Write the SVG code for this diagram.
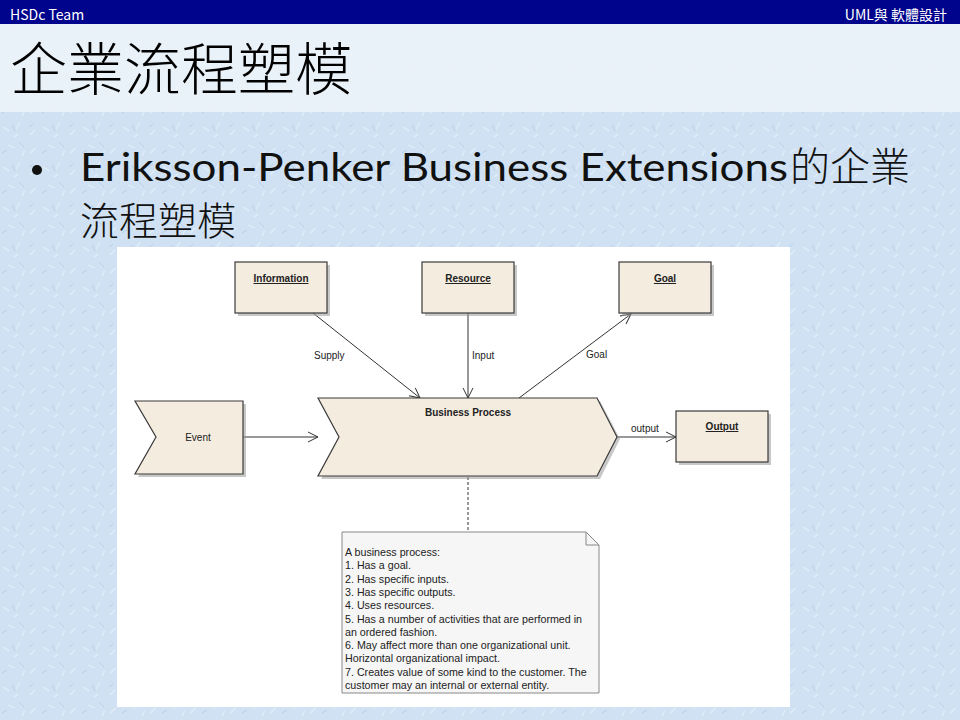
<svg xmlns="http://www.w3.org/2000/svg" width="960" height="720" viewBox="0 0 960 720">
<defs>
<style>
.node{fill:#F4ECDF;stroke:#3a3a3a;stroke-width:1.2}
.shadow{fill:#9a9a9a;opacity:0.55}
.lbl{font-family:"Liberation Sans",Arial,sans-serif;font-size:10px;fill:#222}
.name{font-family:"Liberation Sans",Arial,sans-serif;font-size:10px;font-weight:bold;fill:#222;text-decoration:underline}
.edge{stroke:#333;stroke-width:1;fill:none}
.note{font-family:"Liberation Sans",Arial,sans-serif;font-size:10.7px;fill:#222}
</style>
<marker id="open" viewBox="0 0 12 12" refX="11" refY="6" markerWidth="12" markerHeight="12" markerUnits="userSpaceOnUse" orient="auto">
<path d="M1,1 L11,6 L1,11" fill="none" stroke="#333" stroke-width="1"/>
</marker>
<pattern id="tex" width="40" height="40" patternUnits="userSpaceOnUse">
<rect width="40" height="40" fill="#cfe1f2"/>
<path d="M3,7 l6,4 M20,2 l-4,7 M30,15 l5,-5 M8,25 l7,3 M25,30 l-3,6 M36,28 l-6,5 M14,17 l4,-3" stroke="#e4eef8" stroke-width="1.2"/>
<path d="M12,5 l3,6 M33,4 l-4,3 M2,33 l5,-3 M19,22 l5,5" stroke="#b8d1ea" stroke-width="1"/>
</pattern>
</defs>
<rect width="960" height="720" fill="url(#tex)"/>
<rect x="0" y="24" width="960" height="88" fill="#eef4fa" opacity="0.85"/>
<rect x="0" y="0" width="960" height="24" fill="#00048c"/>
<text x="10" y="20" font-family="'Noto Sans CJK TC','Noto Sans',sans-serif" font-size="14" fill="#ffffff">HSDc Team</text>
<text x="947" y="20" text-anchor="end" font-family="'Noto Sans CJK TC','Noto Sans',sans-serif" font-size="14" fill="#ffffff">UML與 軟體設計</text>
<text x="10" y="90" font-family="'Noto Sans CJK TC',sans-serif" font-size="57" font-weight="300" fill="#000">企業流程塑模</text>
<circle cx="37" cy="170" r="5" fill="#111"/>
<text x="80" y="181" textLength="708" lengthAdjust="spacingAndGlyphs" font-family="Lato,'Open Sans',sans-serif" font-size="38" fill="#111">Eriksson-Penker Business Extensions</text>
<text x="790" y="181" font-family="'Noto Sans CJK TC',sans-serif" font-size="40" font-weight="300" fill="#111">的企業</text>
<text x="80" y="235" font-family="'Noto Sans CJK TC',sans-serif" font-size="39" font-weight="300" fill="#111">流程塑模</text>
<rect x="117" y="247" width="673" height="460" fill="#ffffff"/>
<g id="connectors">
<line class="edge" x1="313" y1="313" x2="420" y2="398" marker-end="url(#open)"/>
<line class="edge" x1="468" y1="313" x2="468" y2="398" marker-end="url(#open)"/>
<line class="edge" x1="519" y1="398" x2="631" y2="314" marker-end="url(#open)"/>
<line class="edge" x1="243" y1="437" x2="318" y2="437" marker-end="url(#open)"/>
<line class="edge" x1="617" y1="437" x2="676" y2="437" marker-end="url(#open)"/>
<line class="edge" x1="468" y1="477" x2="468" y2="532" stroke-dasharray="3,2"/>
<text class="lbl" x="314" y="359">Supply</text>
<text class="lbl" x="472" y="359">Input</text>
<text class="lbl" x="586" y="358">Goal</text>
<text class="lbl" x="631" y="432">output</text>
</g>
<g id="information">
<rect class="shadow" x="238" y="265" width="92" height="51"/>
<rect class="node" x="235" y="262" width="92" height="51"/>
<text class="name" x="281" y="282" text-anchor="middle">Information</text>
</g>
<g id="resource">
<rect class="shadow" x="425" y="265" width="92" height="51"/>
<rect class="node" x="422" y="262" width="92" height="51"/>
<text class="name" x="468" y="282" text-anchor="middle">Resource</text>
</g>
<g id="goal">
<rect class="shadow" x="622" y="265" width="92" height="51"/>
<rect class="node" x="619" y="262" width="92" height="51"/>
<text class="name" x="665" y="282" text-anchor="middle">Goal</text>
</g>
<g id="event">
<polygon class="shadow" points="138,404 246,404 246,477 138,477 159,440"/>
<polygon class="node" points="135,401 243,401 243,474 135,474 156,437"/>
<text class="lbl" x="198" y="441" text-anchor="middle">Event</text>
</g>
<g id="business-process">
<polygon class="shadow" points="321,401 600,401 620,439 600,479 321,479 342,440"/>
<polygon class="node" points="318,398 597,398 617,437 597,476 318,476 339,437"/>
<text class="name" x="468" y="416" text-anchor="middle" style="text-decoration:none">Business Process</text>
</g>
<g id="output">
<rect class="shadow" x="679" y="414" width="92" height="51"/>
<rect class="node" x="676" y="411" width="92" height="51"/>
<text class="name" x="722" y="430" text-anchor="middle">Output</text>
</g>
<g id="note">
<path d="M342,532 L586,532 L599,545 L599,693 L342,693 Z" fill="#f6f6f6" stroke="#888" stroke-width="1"/>
<path d="M586,532 L586,545 L599,545" fill="none" stroke="#888" stroke-width="1"/>
<text class="note" x="345" y="556">A business process:</text>
<text class="note" x="345" y="569.3">1. Has a goal.</text>
<text class="note" x="345" y="582.6">2. Has specific inputs.</text>
<text class="note" x="345" y="595.9">3. Has specific outputs.</text>
<text class="note" x="345" y="609.2">4. Uses resources.</text>
<text class="note" x="345" y="622.5">5. Has a number of activities that are performed in</text>
<text class="note" x="345" y="635.8">an ordered fashion.</text>
<text class="note" x="345" y="649.1">6. May affect more than one organizational unit.</text>
<text class="note" x="345" y="662.4">Horizontal organizational impact.</text>
<text class="note" x="345" y="675.7">7. Creates value of some kind to the customer. The</text>
<text class="note" x="345" y="689">customer may an internal or external entity.</text>
</g>
</svg>
